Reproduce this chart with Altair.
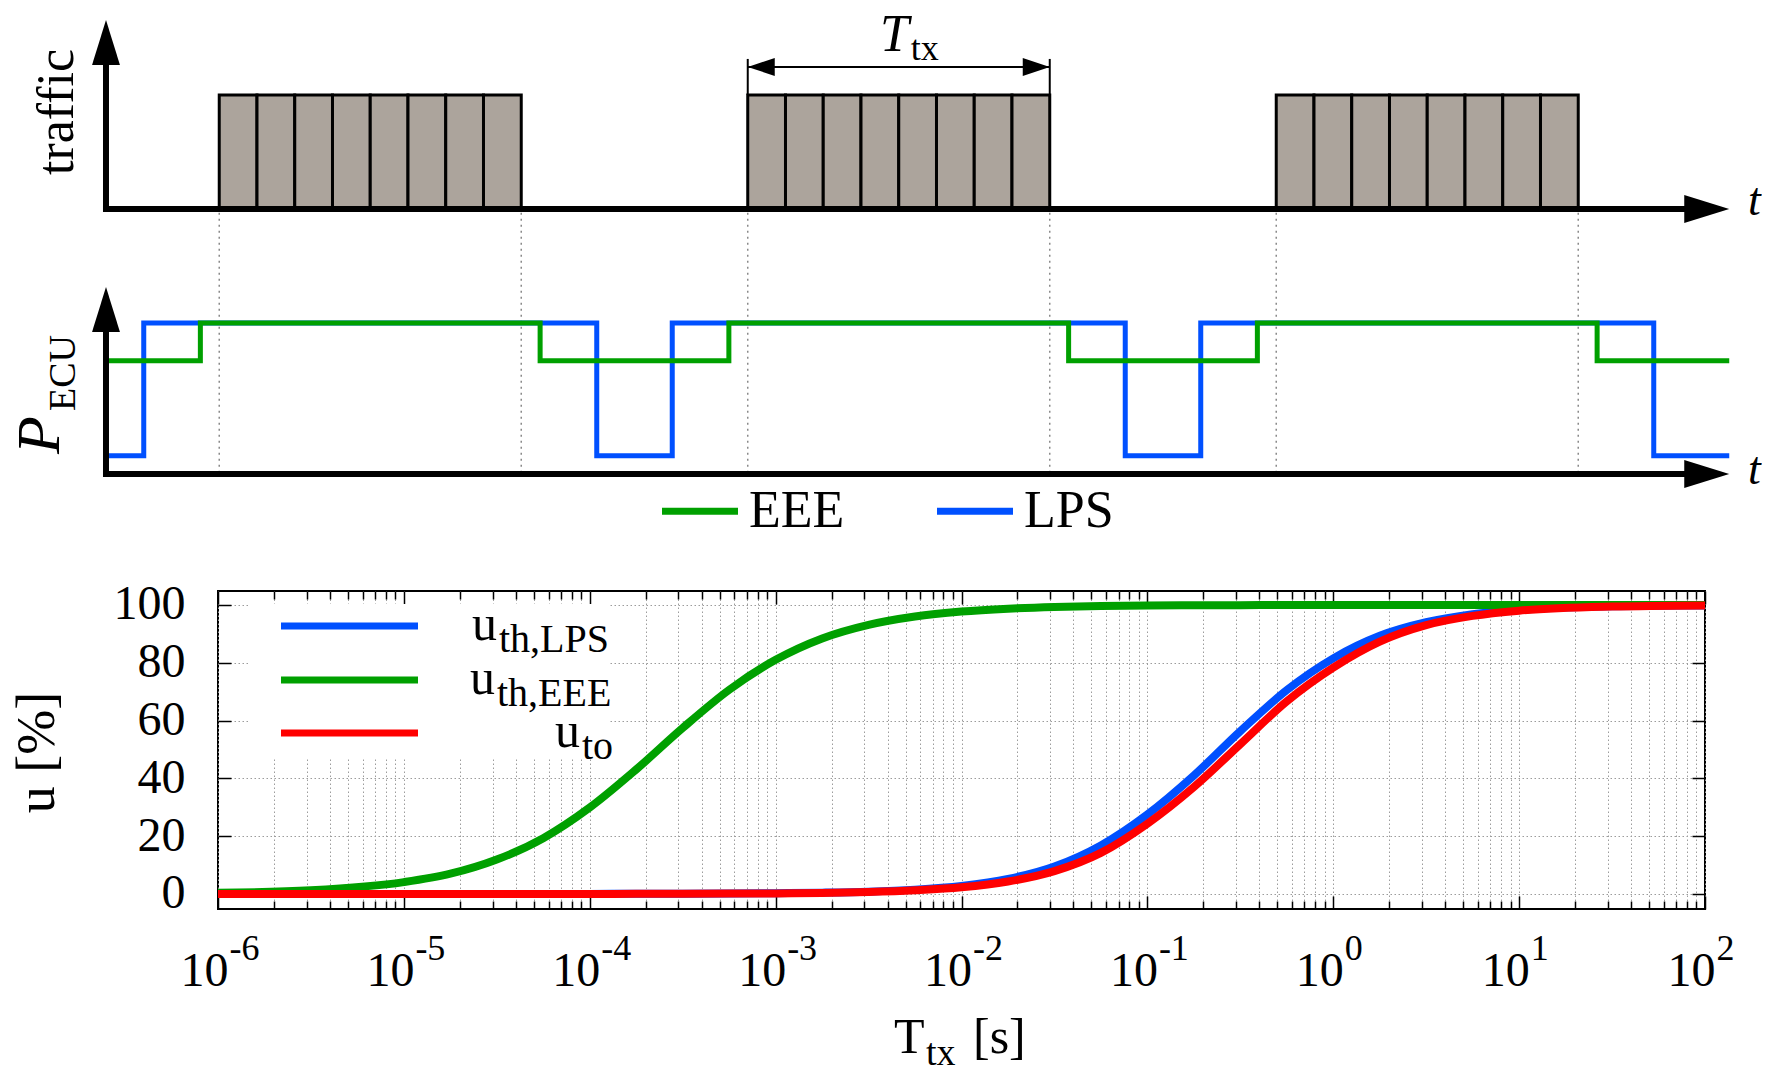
import altair as alt
import pandas as pd

FONT = "Liberation Serif"
GREEN = "#00a000"
BLUE = "#0050ff"
RED = "#ff0000"
BAR_FILL = "#aca49c"
GRID = "#9c9c9c"
GRID_DASH = [1.5, 2.5]

# ---------------- timing diagram (time measured in packet slots) ----------------
BURST_STARTS = [3, 17, 31]
PACKETS_PER_BURST = 8
TRAFFIC_LEVEL = 1.0
T_AXIS_END = 43

LPS_T = [0, 1, 13, 15, 27, 29, 41, 43]
LPS_P = [0.12, 1.0, 0.12, 1.0, 0.12, 1.0, 0.12, 0.12]
EEE_T = [0, 2.5, 11.5, 16.5, 25.5, 30.5, 39.5, 43]
EEE_P = [0.75, 1.0, 0.75, 1.0, 0.75, 1.0, 0.75, 0.75]
SERIES_P = ["EEE", "LPS"]

# ---------------- utilisation curves ----------------
T_TX = [1e-6, 3.16e-6, 1e-5, 1.78e-5, 3.16e-5, 5.62e-5, 1e-4, 1.78e-4, 3.16e-4, 5.62e-4,
        1e-3, 1.78e-3, 3.16e-3, 5.62e-3, 1e-2, 1.78e-2, 3.16e-2, 5.62e-2, 1e-1, 0.178,
        0.316, 0.562, 1.0, 1.78, 3.16, 5.62, 10.0, 31.6, 100.0]
U_LPS = [0, 0, 0, 0, 0, 0, 0.02, 0.05, 0.1, 0.15, 0.25, 0.45, 0.8, 1.5, 2.8, 5.2, 9.5,
         16.8, 27.5, 41.0, 56.3, 70.5, 81.5, 89.3, 94.0, 96.8, 98.3, 99.5, 99.8]
U_EEE = [0.4, 1.3, 4.1, 7.0, 11.9, 19.3, 29.9, 43.1, 57.4, 70.6, 81.0, 88.4, 93.1, 96.0,
         97.7, 98.7, 99.3, 99.6, 99.8, 99.9, 99.9, 100, 100, 100, 100, 100, 100, 100, 100]
U_TO = [0, 0, 0, 0, 0, 0, 0.02, 0.04, 0.08, 0.12, 0.2, 0.35, 0.7, 1.3, 2.3, 4.3, 7.9,
        14.2, 24.3, 37.0, 51.8, 66.6, 78.3, 87.3, 93.0, 96.2, 98.0, 99.4, 99.8]
SERIES_U = ["u_th,LPS", "u_th,EEE", "u_to"]
LEGEND_SUB = ["th,LPS", "th,EEE", "to"]

MAJOR_X = [1e-6, 1e-5, 1e-4, 1e-3, 1e-2, 1e-1, 1e0, 1e1, 1e2]
X_EXPONENTS = ["-6", "-5", "-4", "-3", "-2", "-1", "0", "1", "2"]
MINOR_X = [m * 10.0 ** d for d in range(-6, 2) for m in range(2, 10)]
Y_TICKS = [0, 20, 40, 60, 80, 100]

# ---------------- layout ----------------
PLOT_W = 1487
SLOT_PX = 37.75
T_LEFT = 2.967
TS = alt.Scale(domain=[T_LEFT, T_LEFT + PLOT_W / SLOT_PX], nice=False, zero=False)
H_A = 187
YA = alt.Scale(domain=[0, 1.64], nice=False, zero=False)
H_B = 382
YB = alt.Scale(domain=[-0.775, 1.755], nice=False, zero=False)
H_C = 318

ARROW_R = "M -2 -0.62 L 0 0 L -2 0.62 Z"
ARROW_U = "M -0.62 2 L 0 0 L 0.62 2 Z"
SMALL_L = "M 2 -0.667 L 0 0 L 2 0.667 Z"
SMALL_R = "M -2 -0.667 L 0 0 L -2 0.667 Z"


def base(df, ys):
    return alt.Chart(df).encode(
        x=alt.X("t:Q", scale=TS, axis=None),
        y=alt.Y("v:Q", scale=ys, axis=None))


def segs(rows, ys, **mk):
    df = pd.DataFrame(rows, columns=["t", "t2", "v", "v2"])
    return base(df, ys).mark_rule(**mk).encode(x2="t2:Q", y2="v2:Q")


def heads(rows, ys, size):
    df = pd.DataFrame(rows, columns=["t", "v", "shape"])
    return base(df, ys).mark_point(filled=True, color="black", opacity=1, size=size,
                                   strokeWidth=0).encode(
        shape=alt.Shape("shape:N", scale=None))


def label(text, t, v, ys, size, italic=False, angle=0, align="left", baseline="alphabetic"):
    kw = dict(font=FONT, fontSize=size, align=align, baseline=baseline, color="black")
    if italic:
        kw["fontStyle"] = "italic"
    if angle:
        kw["angle"] = angle
    df = pd.DataFrame({"t": [t], "v": [v], "s": [text]})
    return base(df, ys).mark_text(**kw).encode(text="s:N")


# ---------------- panel A: traffic ----------------
packets = pd.DataFrame([
    {"t": b + i, "t2": b + i + 1, "v": 0.0, "v2": TRAFFIC_LEVEL}
    for b in BURST_STARTS for i in range(PACKETS_PER_BURST)])
bars = base(packets, YA).mark_rect(fill=BAR_FILL, stroke="black", strokeWidth=3).encode(
    x2="t2:Q", y2="v2:Q")
b1 = BURST_STARTS[1]
b1e = b1 + PACKETS_PER_BURST
panel_a = alt.layer(
    bars,
    segs([(0, T_AXIS_END - 1, 0, 0), (0, 0, 0, 1.45)], YA, color="black", strokeWidth=6,
         strokeCap="square"),
    heads([(T_AXIS_END, 0, ARROW_R), (0, 1.658, ARROW_U)], YA, 2025),
    segs([(b1, b1e, 1.246, 1.246)], YA, color="black", strokeWidth=2),
    segs([(b1, b1, 1.0, 1.316), (b1e, b1e, 1.0, 1.316)], YA, color="black", strokeWidth=2),
    heads([(b1, 1.246, SMALL_L), (b1e, 1.246, SMALL_R)], YA, 729),
    label("T", 21.27, 1.39, YA, 52, italic=True, align="right"),
    label("tx", 21.32, 1.307, YA, 36),
    label("traffic", -0.874, 0.851, YA, 52, angle=270, align="center"),
    label("t", 43.5, -0.053, YA, 46, italic=True),
).properties(width=PLOT_W, height=H_A)

# ---------------- panel B: P_ECU ----------------
p_color = alt.Color(
    "series:N", scale=alt.Scale(domain=SERIES_P, range=[GREEN, BLUE]),
    legend=alt.Legend(orient="none", legendX=440.5, legendY=260.5, direction="horizontal",
                      columns=2, title=None, symbolType="stroke", symbolSize=5776,
                      symbolStrokeWidth=7, labelFont=FONT, labelFontSize=52,
                      labelColor="black", labelOffset=7.5, columnPadding=78, padding=0,
                      labelLimit=0))
lps_df = pd.DataFrame({"t": LPS_T, "v": LPS_P, "series": "LPS"})
eee_df = pd.DataFrame({"t": EEE_T, "v": EEE_P, "series": "EEE"})
edges = [(e, e, 1.73, 0) for b in BURST_STARTS for e in (b, b + PACKETS_PER_BURST)]
panel_b = alt.layer(
    segs(edges, YB, color="#8a8a8a", strokeWidth=1.5, strokeDash=[2, 4]),
    base(lps_df, YB).mark_line(interpolate="step-after", strokeWidth=5,
                               strokeJoin="miter").encode(color=p_color),
    base(eee_df, YB).mark_line(interpolate="step-after", strokeWidth=5,
                               strokeJoin="miter").encode(color=p_color),
    segs([(0, T_AXIS_END - 1, 0, 0), (0, 0, 0, 1.0)], YB, color="black", strokeWidth=6,
         strokeCap="square"),
    heads([(T_AXIS_END, 0, ARROW_R), (0, 1.238, ARROW_U)], YB, 2025),
    label("P", -1.25, 0.132, YB, 62, italic=True, angle=270),
    label("ECU", -0.82, 0.417, YB, 38, angle=270),
    label("t", 43.5, -0.066, YB, 46, italic=True),
).properties(width=PLOT_W, height=H_B)

# ---------------- panel C: utilisation ----------------
curves = pd.DataFrame({
    "T": T_TX * 3,
    "u": U_LPS + U_EEE + U_TO,
    "series": [SERIES_U[0]] * len(T_TX) + [SERIES_U[1]] * len(T_TX) + [SERIES_U[2]] * len(T_TX),
})
XS = alt.Scale(type="log", domain=[1e-6, 1e2], nice=False)
YS = alt.Scale(domain=[-5.2, 104.8], nice=False, zero=False)
U_COLOR = alt.Color("series:N", scale=alt.Scale(domain=SERIES_U, range=[BLUE, GREEN, RED]),
                    legend=None)


def ax(**kw):
    d = dict(domain=False, labels=False, ticks=False, grid=False, title=None)
    d.update(kw)
    return alt.Axis(**d)


TICK = dict(ticks=True, tickColor="black", tickWidth=1.5)
GRIDKW = dict(grid=True, gridColor=GRID, gridDash=GRID_DASH, gridWidth=1, gridOpacity=1)
exp_expr = "[" + ",".join("'%s'" % e for e in X_EXPONENTS) + "][round(log(datum.value) / LN10) + 6]"

ax_x_labels = ax(orient="bottom", values=MAJOR_X, labels=True, labelExpr="'10'",
                 labelFont=FONT, labelFontSize=48, labelColor="black", labelAlign="right",
                 labelOffset=10, labelPadding=76, labelBaseline="alphabetic",
                 labelFlush=False, labelOverlap=False, **GRIDKW)
ax_x_exp = ax(orient="bottom", values=MAJOR_X, labels=True, labelExpr=exp_expr,
              labelFont=FONT, labelFontSize=36, labelColor="black", labelAlign="left",
              labelOffset=11, labelPadding=50, labelBaseline="alphabetic",
              labelFlush=False, labelOverlap=False)
ax_x_minor_grid = ax(orient="bottom", values=MINOR_X, **GRIDKW)
ax_x_bot_major = ax(orient="bottom", values=MAJOR_X, tickSize=13, offset=-13, **TICK)
ax_x_bot_minor = ax(orient="bottom", values=MINOR_X, tickSize=8, offset=-8, **TICK)
ax_x_top_major = ax(orient="top", values=MAJOR_X, tickSize=13, offset=-13, **TICK)
ax_x_top_minor = ax(orient="top", values=MINOR_X, tickSize=8, offset=-8, **TICK)
ax_y_labels = ax(orient="left", values=Y_TICKS, labels=True, labelFont=FONT,
                 labelFontSize=48, labelColor="black", labelAlign="right",
                 labelBaseline="middle", labelPadding=33, labelFlush=False,
                 labelOverlap=False, title="u [%]", titleFont=FONT, titleFontSize=54,
                 titleFontWeight="normal", titleColor="black", titleAngle=270,
                 titleX=-165, titleY=161, titleAlign="center", titleBaseline="alphabetic",
                 **GRIDKW)
ax_y_left_ticks = ax(orient="left", values=Y_TICKS, tickSize=13, offset=-13, **TICK)
ax_y_right_ticks = ax(orient="right", values=Y_TICKS, tickSize=13, offset=-13, **TICK)


def curve(name, xaxis, yaxis):
    return alt.Chart(curves).transform_filter(alt.datum.series == name).mark_line(
        strokeWidth=8, interpolate="monotone").encode(
        x=alt.X("T:Q", scale=XS, axis=xaxis),
        y=alt.Y("u:Q", scale=YS, axis=yaxis),
        color=U_COLOR)


def ghost(xaxis):
    return alt.Chart(curves).mark_point(opacity=0).encode(
        x=alt.X("T:Q", scale=XS, axis=xaxis),
        y=alt.Y("u:Q", scale=YS, axis=None))


def ptext(text, x, y, size, align="left", italic=False):
    kw = dict(font=FONT, fontSize=size, align=align, baseline="alphabetic", color="black")
    if italic:
        kw["fontStyle"] = "italic"
    return alt.Chart(pd.DataFrame({"s": [text]})).mark_text(**kw).encode(
        x=alt.value(x), y=alt.value(y), text="s:N")


legend_bg = alt.Chart(pd.DataFrame({"s": ["key"]})).mark_rect(fill="white").encode(
    x=alt.value(31), x2=alt.value(391), y=alt.value(13), y2=alt.value(168))

key_rows_y = [35, 89, 142]
key_u_x = [279, 277, 362]
key_layers = []
for i, name in enumerate(SERIES_U):
    key_layers.append(
        alt.Chart(pd.DataFrame({"series": [name]})).mark_rule(strokeWidth=7).encode(
            x=alt.value(63), x2=alt.value(200), y=alt.value(key_rows_y[i]),
            color=U_COLOR))
    key_layers.append(ptext("u", key_u_x[i], key_rows_y[i] + 14, 50, align="right"))
    key_layers.append(ptext(LEGEND_SUB[i], key_u_x[i] + 2, key_rows_y[i] + 26, 40))

panel_c = alt.layer(
    legend_bg,
    curve(SERIES_U[0], ax_x_labels, ax_y_labels),
    curve(SERIES_U[1], ax_x_exp, ax_y_left_ticks),
    curve(SERIES_U[2], ax_x_minor_grid, ax_y_right_ticks),
    ghost(ax_x_bot_major),
    ghost(ax_x_bot_minor),
    ghost(ax_x_top_major),
    ghost(ax_x_top_minor),
    *key_layers,
    ptext("T", 676, 462, 50),
    ptext("tx", 708, 474, 38),
    ptext("[s]", 755, 462, 50),
).resolve_axis(x="independent", y="independent").properties(
    width=PLOT_W, height=H_C,
    view=alt.ViewBackground(stroke="black", strokeWidth=2))

chart = alt.vconcat(panel_a, panel_b, panel_c, spacing=0, bounds="flush").resolve_scale(
    color="independent").properties(
    padding={"left": 0, "top": 0, "right": 0, "bottom": 0}).configure_view(
    stroke="transparent")

chart.save("out.html", embed_options={"renderer": "svg", "actions": False})
